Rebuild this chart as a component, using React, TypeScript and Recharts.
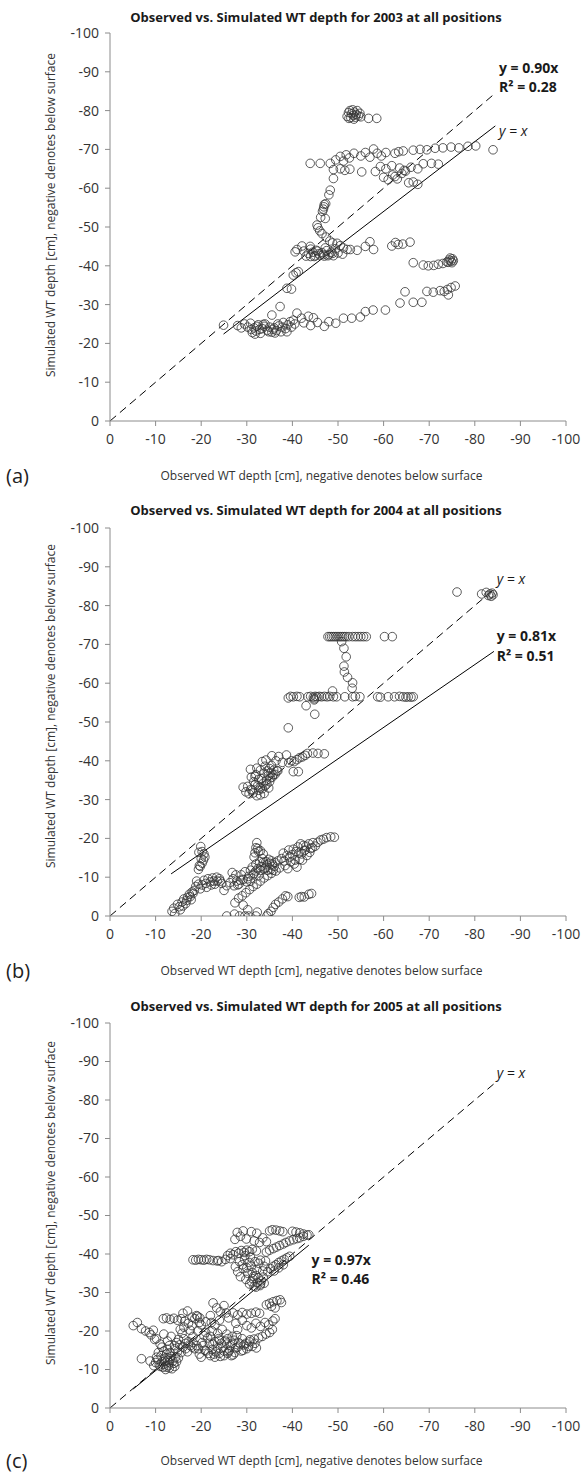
import React from "react";
import {
  ScatterChart,
  Scatter,
  XAxis,
  YAxis,
  ReferenceLine,
  ReferenceDot,
} from "recharts";

// ---------- tick labels ----------
const axisTicks = [0, -10, -20, -30, -40, -50, -60, -70, -80, -90, -100];

// ---------- titles ----------
const titles = [
  "Observed vs. Simulated WT depth for 2003 at all positions",
  "Observed vs. Simulated WT depth for 2004 at all positions",
  "Observed vs. Simulated WT depth for 2005 at all positions",
];
const panelLetters = ["(a)", "(b)", "(c)"];
const xTitle = "Observed WT depth [cm], negative denotes below surface";
const yTitle = "Simulated WT depth [cm], negative denotes below surface";

// ---------- 2003 : [observed, simulated] ----------
const pts2003: [number, number][] = [
  [-52.0,-78.5],[-52.3,-79.5],[-52.6,-80.0],[-52.8,-78.2],[-53.0,-79.2],[-53.2,-80.2],[-53.4,-78.8],[-53.6,-79.6],[-53.8,-78.3],[-54.0,-79.0],[-54.2,-80.0],[-54.5,-78.6],[-54.8,-79.3],[-55.0,-78.4],[-52.4,-78.0],[-53.5,-77.8],[-56.7,-78.0],[-58.5,-78.0],
  [-43.9,-66.4],[-46.1,-66.4],[-48.3,-66.4],[-49.5,-67.3],[-50.5,-68.2],[-51.2,-67.0],[-51.8,-68.6],[-52.5,-67.8],[-53.5,-69.0],[-55.0,-68.3],[-56.0,-69.2],[-57.0,-68.0],[-57.8,-70.1],[-58.6,-69.0],[-59.5,-68.3],[-60.5,-69.2],[-62.5,-69.0],[-63.3,-69.4],[-64.3,-69.6],[-66.5,-69.8],[-68.0,-70.0],[-69.5,-69.9],[-71.3,-70.3],[-73.0,-70.4],[-74.8,-70.6],[-76.5,-70.4],[-78.5,-70.8],[-80.2,-70.9],[-84.0,-69.9],
  [-49.0,-64.8],[-50.5,-65.0],[-51.5,-64.6],[-52.6,-64.9],[-55.2,-64.2],[-58.2,-64.3],[-59.3,-65.6],[-60.5,-65.0],[-61.8,-65.8],[-63.5,-65.2],[-64.5,-64.6],[-66.0,-65.4],[-67.5,-65.0],[-68.7,-66.3],[-70.5,-66.4],[-72.0,-66.2],
  [-60.0,-62.8],[-61.0,-62.2],[-62.0,-63.4],[-63.0,-62.4],[-64.0,-63.8],[-64.8,-64.4],[-65.5,-61.4],[-66.5,-61.6],[-67.5,-61.0],[-62.5,-63.0],
  [-49.0,-62.5],[-48.3,-59.5],[-48.0,-58.3],[-47.3,-56.0],[-46.9,-55.2],[-46.8,-54.6],[-47.0,-55.8],[-46.6,-54.0],[-46.2,-52.5],[-47.2,-52.2],[-45.4,-50.5],[-45.6,-49.8],[-46.0,-49.0],[-46.5,-48.3],[-47.4,-47.4],[-48.2,-46.4],[-48.8,-45.9],
  [-40.6,-43.6],[-41.0,-44.2],[-42.1,-45.1],[-43.9,-45.0],[-42.5,-43.8],[-43.0,-42.5],[-43.5,-43.2],[-44.0,-42.4],[-44.5,-43.5],[-45.0,-42.6],[-45.5,-43.8],[-46.0,-42.7],[-46.5,-43.4],[-47.0,-42.5],[-47.5,-43.9],[-48.0,-42.9],[-48.5,-43.5],[-49.0,-42.6],[-49.8,-45.8],[-50.5,-45.2],[-51.2,-44.6],[-52.0,-44.2],[-50.0,-43.3],[-51.0,-43.0],[-52.7,-44.2],[-54.2,-44.0],[-56.0,-45.0],[-57.0,-46.2],[-57.8,-44.2],[-61.8,-45.1],[-62.6,-46.0],[-63.2,-45.5],[-64.2,-45.6],[-65.8,-46.1],[-44.0,-44.3],[-45.2,-44.0],
  [-44.8,-42.4],[-45.8,-43.1],[-46.8,-42.9],[-47.8,-42.6],[-48.8,-43.2],[-49.4,-44.4],[-47.2,-44.6],
  [-66.5,-40.8],[-68.7,-40.2],[-69.8,-40.0],[-71.0,-40.1],[-72.0,-40.4],[-73.0,-40.6],[-73.9,-41.0],[-74.4,-41.5],[-74.8,-41.2],[-75.0,-40.8],[-75.3,-41.3],[-74.6,-42.0],[-75.1,-41.8],[-74.2,-40.9],
  [-38.8,-34.2],[-39.8,-34.0],[-40.2,-37.6],[-40.8,-38.2],[-41.3,-38.5],
  [-64.7,-33.3],[-63.6,-30.4],[-66.5,-30.6],[-68.4,-30.6],[-69.5,-33.4],[-70.9,-33.2],[-72.4,-33.6],[-73.3,-33.4],[-74.2,-32.5],[-74.0,-33.9],[-74.8,-34.4],[-75.7,-34.8],
  [-24.9,-24.7],[-28.0,-24.6],[-28.8,-24.0],[-29.5,-25.0],[-30.2,-24.2],[-30.8,-25.2],[-31.2,-22.8],[-31.6,-24.0],[-32.0,-23.2],[-32.5,-24.8],[-33.0,-22.6],[-33.4,-23.8],[-34.0,-25.0],[-34.5,-23.4],[-35.0,-24.2],[-35.5,-22.9],[-36.0,-24.0],[-36.5,-23.3],[-37.0,-24.5],[-37.5,-23.0],[-38.0,-25.4],[-38.5,-23.8],[-39.0,-24.8],[-39.5,-25.6],[-35.5,-27.3],[-37.3,-29.5],[-40.5,-25.0],[-41.0,-27.8],[-42.0,-26.5],[-43.5,-27.0],[-44.6,-26.6],[-42.5,-25.3],[-44.0,-24.6],[-45.5,-25.4],[-47.0,-24.4],[-48.0,-25.6],[-49.5,-25.2],[-51.2,-26.5],[-53.0,-26.5],[-54.9,-26.8],[-56.0,-28.2],[-57.7,-28.6],[-60.4,-28.6],[-32.2,-24.4],[-33.6,-24.9],[-36.8,-25.0],
  [-31.0,-23.6],[-31.8,-22.4],[-32.8,-23.6],[-33.8,-24.4],[-34.8,-23.0],[-35.8,-23.6],[-36.2,-22.7],[-37.8,-24.2],[-38.8,-23.0],[-39.8,-24.2],[-40.2,-26.0],
];

// ---------- 2004 : [observed, simulated] ----------
const pts2004: [number, number][] = [
  [-47.8,-72],[-48.2,-72],[-48.6,-72],[-49.0,-72],[-49.4,-72],[-49.8,-72],[-50.2,-72],[-50.6,-72],[-51.0,-72],[-51.4,-72],[-51.8,-72],[-52.4,-72],[-53.2,-72],[-53.8,-72],[-54.4,-72],[-55.0,-72],[-55.6,-72],[-56.2,-72],[-60.2,-72],[-61.9,-72],
  [-50.8,-70.7],[-51.3,-69.0],[-51.8,-66.8],[-51.3,-64.4],[-51.4,-62.9],[-52.1,-61.5],[-53.2,-60.1],[-53.1,-58.7],[-48.8,-58.0],
  [-39.1,-56.2],[-39.6,-56.6],[-40.2,-56.5],[-41.0,-56.6],[-41.6,-56.5],[-43.4,-56.5],[-44.0,-56.6],[-44.6,-56.4],[-45.0,-56.6],[-45.4,-56.5],[-45.9,-56.6],[-46.4,-56.5],[-47.0,-56.6],[-47.6,-56.5],[-48.2,-56.6],[-49.0,-56.5],[-49.7,-56.5],[-51.5,-56.5],[-53.2,-56.5],[-53.8,-56.6],[-54.8,-56.5],[-58.7,-56.5],[-59.3,-56.4],[-61.0,-56.5],[-62.4,-56.5],[-63.5,-56.6],[-64.3,-56.5],[-64.9,-56.4],[-65.4,-56.5],[-66.0,-56.4],[-66.5,-56.5],[-44.8,-56.0],[-44.8,-55.7],
  [-43.0,-54.2],[-44.9,-52.0],[-39.1,-48.5],
  [-76.1,-83.5],[-81.5,-83.0],[-82.5,-83.4],[-83.0,-82.6],[-83.3,-83.0],[-83.6,-82.4],[-83.8,-83.2],[-84.0,-82.8],
  [-29.2,-33.2],[-29.8,-32.0],[-30.2,-33.4],[-30.5,-31.5],[-30.9,-32.6],[-31.4,-31.7],[-31.8,-33.8],[-32.2,-31.0],[-32.6,-32.4],[-33.0,-31.2],[-33.4,-32.8],[-33.8,-31.6],[-34.0,-33.5],[-34.3,-35.0],[-34.7,-36.2],[-35.0,-34.6],[-35.3,-37.0],[-35.6,-35.8],[-35.9,-37.6],[-36.2,-36.5],[-35.0,-38.0],[-34.5,-37.4],[-33.8,-36.8],[-33.2,-35.4],[-32.6,-35.2],[-32.0,-36.4],[-31.5,-34.6],[-31.0,-35.8],[-32.2,-38.1],[-33.4,-39.8],[-34.2,-40.2],[-35.5,-41.3],[-36.4,-40.0],[-37.0,-41.1],[-37.8,-39.6],[-38.7,-41.5],[-39.2,-39.5],[-39.8,-40.0],[-40.4,-39.8],[-41.0,-40.3],[-41.6,-40.8],[-42.2,-41.0],[-42.8,-41.4],[-43.3,-41.9],[-44.5,-42.0],[-45.6,-41.9],[-47.0,-41.8],[-40.2,-37.2],[-41.3,-37.2],[-36.8,-37.4],[-33.0,-37.6],[-30.8,-37.8],[-31.8,-36.0],
  [-33.6,-34.2],[-34.4,-34.0],[-34.8,-33.0],[-35.2,-35.6],[-35.8,-36.4],[-36.6,-37.4],[-35.4,-38.8],[-34.0,-38.6],[-33.0,-33.0],[-32.4,-33.6],[-31.2,-32.4],
  [-19.4,-12.0],[-19.8,-12.8],[-20.2,-13.6],[-20.5,-14.4],[-20.8,-15.2],[-20.6,-16.0],[-20.2,-16.6],[-19.9,-17.9],[-19.5,-16.4],[-19.6,-13.0],[-20.0,-14.8],
  [-13.6,-1.2],[-14.0,-2.0],[-14.2,-0.6],[-14.8,-3.0],[-15.2,-2.4],[-15.8,-3.6],[-16.2,-4.4],[-16.6,-3.2],[-17.0,-4.8],[-17.4,-5.6],[-17.8,-4.2],[-18.2,-5.8],[-18.5,-6.6],[-18.8,-7.6],[-19.0,-9.0],[-19.4,-8.2],[-19.8,-7.0],
  [-15.4,-1.6],[-16.0,-2.6],[-16.8,-4.0],[-17.6,-5.0],[-18.0,-6.2],
  [-20.2,-8.0],[-20.6,-9.2],[-21.0,-8.4],[-21.5,-9.6],[-22.0,-8.8],[-22.5,-9.8],[-23.0,-8.2],[-23.5,-9.0],[-24.0,-9.6],[-24.5,-8.4],[-25.0,-6.6],[-25.6,-7.8],[-26.3,-8.6],[-26.8,-11.2],[-27.2,-7.8],[-27.8,-9.0],[-28.3,-8.2],[-28.8,-10.6],[-29.2,-9.4],[-29.6,-11.4],[-30.0,-8.8],[-30.4,-10.2],[-30.8,-11.8],[-31.2,-12.6],[-31.6,-11.0],[-32.0,-13.4],[-32.4,-12.2],[-32.8,-14.0],[-33.2,-12.8],[-33.6,-13.8],[-34.0,-12.4],[-34.4,-13.2],[-34.8,-14.6],[-35.2,-12.0],[-35.6,-13.4],[-36.0,-12.8],[-36.4,-11.6],[-36.8,-14.2],[-37.2,-12.4],[-31.8,-16.3],[-32.0,-17.6],[-32.2,-18.9],[-31.6,-15.2],[-33.0,-16.8],
  [-21.2,-7.4],[-22.2,-8.0],[-22.8,-9.0],[-23.4,-10.0],[-24.2,-9.0],[-27.0,-9.6],[-27.6,-10.6],[-28.0,-8.0],[-28.6,-9.2],
  [-30.2,-9.6],[-30.8,-9.0],[-31.4,-10.6],[-32.0,-11.6],[-32.6,-10.4],[-33.0,-11.8],[-33.4,-14.8],[-33.8,-12.2],[-34.2,-14.0],[-34.6,-11.8],[-35.0,-13.6],[-35.4,-14.2],[-35.8,-11.8],[-36.2,-13.8],[-33.6,-16.0],[-32.6,-16.6],[-32.4,-17.4],
  [-37.6,-14.8],[-38.0,-16.2],[-38.4,-13.0],[-38.8,-15.6],[-39.2,-17.0],[-39.6,-14.0],[-40.0,-15.8],[-40.4,-13.4],[-40.8,-16.6],[-41.2,-17.8],[-41.6,-14.6],[-42.0,-16.0],[-42.4,-18.2],[-42.8,-17.0],[-43.2,-15.6],[-43.6,-18.6],[-44.0,-17.4],[-44.5,-18.9],[-45.0,-18.0],[-45.6,-19.0],[-46.2,-19.6],[-46.8,-19.8],[-47.5,-20.2],[-48.4,-20.4],[-49.2,-20.3],[-41.0,-12.6],[-39.0,-12.2],
  [-38.2,-14.2],[-39.4,-15.2],[-40.2,-17.2],[-41.4,-16.2],[-42.2,-14.4],[-42.6,-16.8],[-43.0,-18.0],[-43.8,-16.4],[-44.4,-17.6],[-41.8,-18.6],[-40.6,-14.4],
  [-27.4,-3.4],[-28.2,-4.6],[-29.0,-5.2],[-29.8,-6.0],[-30.6,-6.8],[-31.4,-7.6],[-32.2,-8.2],[-33.0,-9.0],[-33.8,-9.8],[-34.6,-10.4],[-35.4,-11.0],[-29.2,-2.8],[-30.2,-1.6],
  [-25.6,0],[-27.3,-0.5],[-28.4,0],[-29.6,0],[-30.4,0],[-32.0,0],[-34.4,0],[-32.3,-1.0],[-34.7,-0.6],
  [-35.3,-1.2],[-35.8,-2.2],[-36.3,-3.0],[-37.0,-3.6],[-37.8,-4.4],[-38.5,-5.2],[-39.0,-5.0],[-41.5,-4.8],[-42.0,-5.0],[-42.6,-4.9],[-43.6,-5.6],[-44.2,-5.8],
];

// ---------- 2005 : [observed, simulated] ----------
const pts2005: [number, number][] = [
  [-18.2,-38.5],[-18.8,-38.4],[-19.4,-38.6],[-20.0,-38.5],[-20.6,-38.4],[-21.2,-38.6],[-21.8,-38.5],[-22.6,-38.3],[-23.5,-38.2],[-24.5,-38.0],[-25.3,-38.6],[-25.8,-39.6],[-26.4,-40.2],[-27.0,-39.8],[-27.6,-40.6],[-28.2,-40.2],[-28.8,-40.9],[-29.4,-40.4],[-30.0,-41.0],[-30.6,-40.6],[-31.2,-41.2],[-32.1,-40.8],
  [-23.8,-38.3],[-26.4,-38.8],[-29.6,-39.6],[-30.8,-39.2],
  [-27.4,-43.8],[-27.9,-45.6],[-28.6,-44.6],[-29.2,-46.0],[-29.9,-43.9],[-31.0,-45.8],[-31.6,-43.4],[-32.2,-45.4],[-32.8,-43.0],[-33.5,-44.2],[-34.3,-43.2],[-35.0,-46.0],[-35.6,-46.3],[-36.4,-46.2],[-37.2,-46.0],[-37.9,-45.8],[-40.0,-45.9],[-40.8,-45.7],[-41.6,-45.5],[-42.4,-45.2],[-43.6,-45.0],
  [-34.3,-40.5],[-35.0,-41.0],[-35.8,-41.4],[-36.5,-41.8],[-37.2,-42.2],[-38.0,-42.6],[-38.6,-43.0],[-39.4,-43.4],[-40.2,-43.7],[-41.0,-44.0],[-41.6,-44.2],[-42.4,-44.6],[-43.2,-44.9],
  [-27.5,-36.7],[-28.0,-35.4],[-28.6,-34.1],[-29.2,-36.2],[-29.8,-33.4],[-30.2,-35.0],[-30.6,-32.2],[-31.0,-36.8],[-31.3,-33.6],[-31.6,-31.6],[-32.0,-34.4],[-32.3,-32.6],[-32.6,-37.6],[-32.9,-31.8],[-33.2,-33.0],[-33.5,-35.6],[-33.8,-32.4],[-34.1,-38.2],[-31.8,-38.0],[-33.0,-38.4],[-30.5,-37.8],[-29.5,-38.6],
  [-31.0,-32.8],[-31.5,-34.2],[-32.0,-31.4],[-32.5,-33.8],[-33.0,-32.2],[-33.6,-34.0],[-32.2,-36.0],[-31.2,-35.2],[-30.0,-36.4],[-29.0,-37.2],[-28.4,-38.0],[-33.8,-36.8],
  [-34.6,-35.4],[-35.2,-36.2],[-35.8,-36.8],[-36.4,-37.2],[-37.0,-37.8],[-37.6,-38.2],[-38.2,-38.6],[-38.8,-39.0],[-39.4,-39.4],[-36.0,-35.6],[-37.0,-36.4],[-38.0,-37.2],
  [-5.1,-21.4],[-6.0,-22.2],[-6.9,-20.6],[-7.8,-20.0],[-8.6,-19.6],[-9.5,-20.2],[-9.0,-19.0],[-9.8,-17.8],[-6.9,-12.8],[-8.8,-12.2],
  [-9.6,-11.0],[-10.0,-11.8],[-10.4,-12.6],[-10.8,-11.2],[-11.2,-13.6],[-11.6,-10.6],[-12.0,-12.2],[-12.4,-14.0],[-12.8,-11.0],[-13.2,-12.8],[-13.6,-10.2],[-14.0,-11.6],[-14.4,-13.2],[-14.8,-14.6],[-12.6,-15.2],[-11.4,-15.8],[-10.6,-14.4],[-13.0,-10.4],[-12.2,-10.0],[-14.2,-15.4],[-15.3,-16.4],
  [-11.0,-10.8],[-11.4,-12.0],[-11.8,-11.4],[-12.2,-13.0],[-12.6,-12.4],[-13.0,-11.8],[-13.4,-13.4],[-13.8,-12.2],[-14.2,-10.8],[-14.6,-12.0],[-12.4,-10.6],[-13.2,-14.4],[-11.8,-14.8],[-10.2,-13.2],[-15.0,-13.0],[-15.6,-14.4],[-16.0,-15.8],[-16.6,-16.8],[-17.0,-14.6],[-17.6,-16.2],[-18.2,-17.0],[-18.6,-15.4],[-16.2,-18.0],[-14.6,-17.0],[-13.0,-16.2],
  [-11.7,-23.2],[-12.4,-23.4],[-13.2,-23.0],[-14.0,-23.3],[-14.8,-22.8],[-15.6,-23.2],[-16.4,-22.6],[-17.2,-22.0],[-18.0,-23.6],[-18.6,-23.2],[-19.2,-23.8],[-19.7,-23.4],
  [-10.2,-18.0],[-11.0,-16.6],[-11.8,-19.2],[-12.6,-17.4],[-13.4,-18.6],[-14.2,-16.2],[-15.0,-17.8],[-15.8,-19.4],[-16.6,-15.4],[-17.2,-17.2],[-18.0,-15.8],[-17.6,-20.2],[-16.2,-21.0],[-15.4,-20.4],[-18.2,-18.6],
  [-16.0,-24.6],[-17.0,-25.2],[-18.0,-21.4],[-19.0,-24.0],[-19.6,-22.2],
  [-19.0,-16.2],[-19.6,-14.0],[-20.2,-17.0],[-20.8,-15.0],[-21.4,-18.2],[-22.0,-13.6],[-22.6,-16.6],[-23.2,-14.6],[-23.8,-18.0],[-24.2,-13.4],[-24.8,-15.8],[-25.2,-17.4],[-25.8,-14.2],[-26.4,-16.2],[-27.0,-13.8],[-27.6,-15.6],[-28.2,-17.0],[-28.8,-14.8],[-29.4,-16.4],[-30.0,-15.4],[-30.6,-17.2],[-31.2,-16.0],[-31.8,-16.8],[-32.1,-15.6],[-21.0,-19.6],[-22.4,-20.0],[-23.6,-19.4],[-24.6,-20.4],[-25.6,-19.2],[-26.8,-18.6],[-20.0,-13.2],[-21.6,-14.2],[-23.0,-13.2],[-25.0,-13.6],[-26.0,-14.6],[-27.2,-17.6],[-29.0,-18.0],
  [-19.4,-15.4],[-20.4,-16.2],[-21.0,-14.8],[-21.8,-16.8],[-22.4,-15.2],[-23.0,-17.2],[-23.6,-15.6],[-24.4,-16.8],[-25.0,-14.8],[-25.6,-16.6],[-26.2,-15.0],[-26.8,-16.8],[-27.4,-14.4],[-28.0,-15.8],[-28.6,-16.6],[-29.2,-15.0],[-29.8,-16.8],[-30.4,-16.0],[-24.0,-14.2],[-22.8,-14.0],[-26.6,-13.6],[-20.6,-18.8],[-22.0,-18.6],[-24.0,-17.6],[-25.8,-18.0],[-27.8,-18.8],[-19.2,-20.0],[-20.0,-21.6],[-22.2,-22.2],
  [-22.6,-27.3],[-23.4,-26.0],[-24.2,-25.0],[-25.0,-26.6],[-25.5,-24.7],[-21.0,-22.4],[-22.0,-24.0],[-23.0,-21.6],[-24.0,-22.8],[-26.0,-23.4],
  [-27.0,-24.7],[-28.0,-24.2],[-29.0,-24.8],[-30.0,-24.4],[-31.0,-24.6],[-32.0,-24.9],[-32.8,-24.6],
  [-30.0,-21.4],[-31.0,-20.8],[-32.0,-22.0],[-33.0,-21.2],[-34.0,-22.2],[-34.8,-21.6],[-35.7,-22.6],[-36.2,-23.2],[-30.7,-17.7],[-31.6,-17.9],[-32.6,-18.2],[-33.4,-18.6],[-34.2,-19.2],[-35.0,-19.6],[-35.6,-20.4],
  [-34.3,-26.8],[-35.0,-27.2],[-35.8,-27.6],[-36.6,-27.9],[-37.3,-28.1],[-37.6,-27.4],[-35.4,-26.4],[-36.2,-26.0],
  [-28.0,-20.4],[-29.0,-22.8],[-27.6,-22.0],
];

// ---------- regression (solid) and 1:1 (dashed) lines ----------
const slopes = [0.9, 0.81, 0.97];
const fitRanges: [number, number][] = [[-24.9, -84.5], [-13.4, -84.2], [-5.1, -43.6]];
const oneToOneEnd = [-84.5, -84.0, -84.8];

// ---------- annotation texts: [text, x, y, style] ----------
type Ann = [string, number, number, "b" | "i"];
const annotations: Ann[][] = [
  [["y = 0.90x", -85.3, -91.0, "b"], ["R² = 0.28", -85.3, -86.3, "b"], ["y = x", -85.3, -74.8, "i"]],
  [["y = x", -84.8, -87.1, "i"], ["y = 0.81x", -84.8, -72.4, "b"], ["R² = 0.51", -84.8, -67.2, "b"]],
  [["y = x", -84.8, -87.2, "i"], ["y = 0.97x", -44.2, -38.6, "b"], ["R² = 0.46", -44.2, -33.6, "b"]],
];

const allPts = [pts2003, pts2004, pts2005];

const FONT = "'Open Sans', 'Noto Sans', sans-serif";
const AXIS = "#8c8c8c";

const OpenCircle = (p: any) => (
  <circle cx={p.cx} cy={p.cy} r={4.3} fill="none" stroke="#333" strokeWidth={0.8} />
);

const annLabel = (text: string, style: "b" | "i") => (p: any) => {
  const vb = p.viewBox || p;
  const x = vb.x + (vb.width || 0) / 2;
  const y = vb.y + (vb.height || 0) / 2;
  return (
    <text
      x={x}
      y={y}
      dominantBaseline="central"
      textAnchor="start"
      fontFamily={FONT}
      fontSize={14}
      fontWeight={style === "b" ? 700 : 400}
      fontStyle={style === "i" ? "italic" : "normal"}
      fill="#1a1a1a"
    >
      {text}
    </text>
  );
};

// panel layout: [containerTop, height, plotTopMargin, xAxisHeight]
const layout: [number, number, number, number][] = [
  [0, 495, 33, 74],
  [494, 495, 34, 73],
  [989, 487, 34, 68],
];
const titleY = [17, 510, 1006];
const xTitleY = [476, 971, 1461];
const yTitleY = [215, 706, 1203];

function Panel({ i }: { i: number }) {
  const [top, h, mt, xh] = layout[i];
  const data = allPts[i].map(([x, y]) => ({ x, y }));
  const [f0, f1] = fitRanges[i];
  const e = oneToOneEnd[i];
  return (
    <div style={{ position: "absolute", left: 0, top, width: 582, height: h }}>
      <ScatterChart width={582} height={h} margin={{ top: mt, right: 16, bottom: 0, left: 0 }}>
        <XAxis
          type="number"
          dataKey="x"
          domain={[-100, 0]}
          reversed
          ticks={axisTicks}
          interval={0}
          height={xh}
          tickSize={5}
          tickMargin={8}
          axisLine={{ stroke: AXIS }}
          tickLine={{ stroke: AXIS }}
          tick={{ fill: "#333", fontSize: 14, fontFamily: FONT }}
          allowDataOverflow
        />
        <YAxis
          type="number"
          dataKey="y"
          domain={[-100, 0]}
          reversed
          ticks={axisTicks}
          interval={0}
          width={110}
          tickSize={5}
          tickMargin={6}
          axisLine={{ stroke: AXIS }}
          tickLine={{ stroke: AXIS }}
          tick={{ fill: "#333", fontSize: 14, fontFamily: FONT }}
          allowDataOverflow
        />
        <ReferenceLine
          segment={[{ x: 0, y: 0 }, { x: e, y: e }]}
          stroke="#000"
          strokeWidth={1}
          strokeDasharray="8 5"
          ifOverflow="visible"
        />
        <ReferenceLine
          segment={[{ x: f0, y: f0 * slopes[i] }, { x: f1, y: f1 * slopes[i] }]}
          stroke="#000"
          strokeWidth={1}
          ifOverflow="visible"
        />
        <Scatter data={data} shape={OpenCircle} isAnimationActive={false} />
        {annotations[i].map(([t, ax, ay, s], k) => (
          <ReferenceDot
            key={k}
            x={ax}
            y={ay}
            r={0}
            fill="none"
            stroke="none"
            ifOverflow="visible"
            label={annLabel(t, s)}
          />
        ))}
      </ScatterChart>
    </div>
  );
}

export default function App() {
  return (
    <div
      style={{
        position: "absolute",
        left: 0,
        top: 0,
        width: 582,
        height: 1476,
        background: "#fff",
        overflow: "hidden",
        fontFamily: FONT,
      }}
    >
      {[0, 1, 2].map((i) => (
        <React.Fragment key={i}>
          <Panel i={i} />
          <div
            style={{
              position: "absolute",
              left: 0,
              width: 632,
              top: titleY[i] - 10,
              height: 20,
              lineHeight: "20px",
              textAlign: "center",
              fontWeight: 700,
              fontSize: 13,
              color: "#1a1a1a",
              whiteSpace: "nowrap",
            }}
          >
            {titles[i]}
          </div>
          <div
            style={{
              position: "absolute",
              left: 0,
              width: 643,
              top: xTitleY[i] - 9,
              height: 18,
              lineHeight: "18px",
              textAlign: "center",
              fontSize: 12,
              color: "#333",
              whiteSpace: "nowrap",
            }}
          >
            {xTitle}
          </div>
          <div
            style={{
              position: "absolute",
              left: 51 - 200,
              width: 400,
              top: yTitleY[i] - 9,
              height: 18,
              lineHeight: "18px",
              textAlign: "center",
              fontSize: 12,
              color: "#333",
              whiteSpace: "nowrap",
              transform: "rotate(-90deg)",
            }}
          >
            {yTitle}
          </div>
          <div
            style={{
              position: "absolute",
              left: 6,
              top: xTitleY[i] - 13,
              height: 26,
              lineHeight: "26px",
              fontSize: 20,
              color: "#222",
            }}
          >
            {panelLetters[i]}
          </div>
        </React.Fragment>
      ))}
    </div>
  );
}
